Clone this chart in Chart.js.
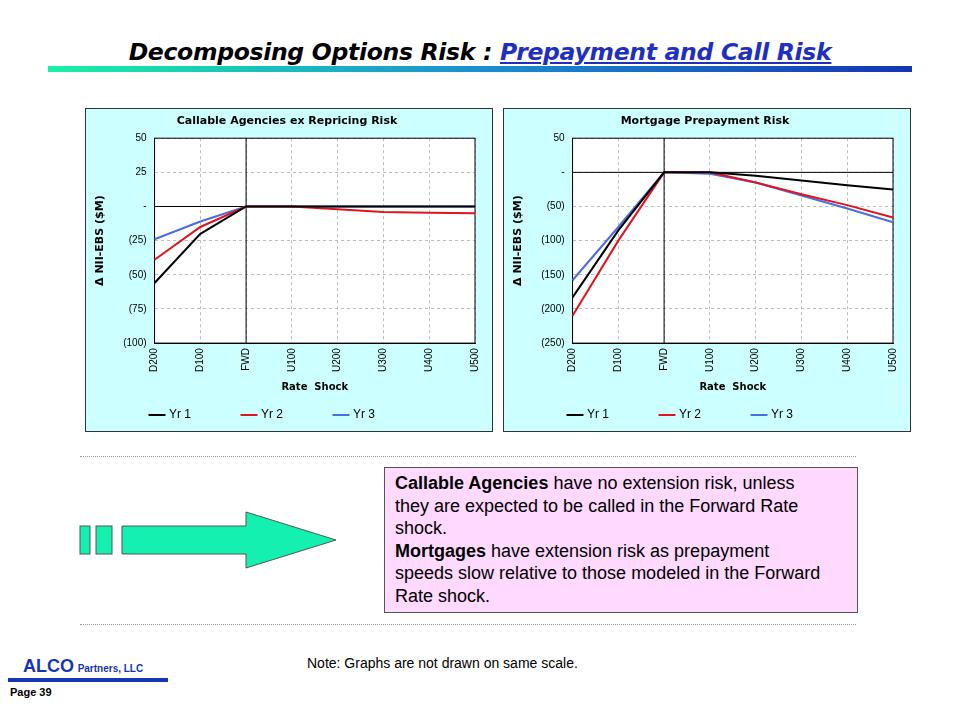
<!DOCTYPE html>
<html>
<head>
<meta charset="utf-8">
<script src="https://cdn.jsdelivr.net/npm/chart.js@4"></script>
<style>
  body { margin:0; width:960px; height:720px; background:#fff; position:relative; font-family:"DejaVu Sans", sans-serif; overflow:hidden; }
  .abs { position:absolute; }
  .box { position:absolute; width:406px; height:322px; border:1px solid #333; background:#ccffff; }
  .box canvas { width:406px !important; height:322px !important; }
</style>
</head>
<body>
<div class="abs" style="left:0;top:38px;width:960px;text-align:center;font:italic bold 23.5px 'DejaVu Sans',sans-serif;letter-spacing:-0.3px;">
  Decomposing Options Risk : <span style="color:#1f2fc0;text-decoration:underline;">Prepayment and Call Risk</span>
</div>
<div class="abs" style="left:48px;top:66px;width:864px;height:6px;background:linear-gradient(to right,#19f0a6,#1a8fd0 50%,#1634b6);"></div>

<div class="box" style="left:85px;top:108px;"><canvas id="c1" width="406" height="322"></canvas></div>
<div class="box" style="left:503px;top:108px;"><canvas id="c2" width="406" height="322"></canvas></div>

<div class="abs" style="left:80px;top:456px;width:776px;border-top:1px dotted #999;"></div>
<div class="abs" style="left:80px;top:624px;width:776px;border-top:1px dotted #999;"></div>

<svg class="abs" style="left:78px;top:510px;" width="262" height="62">
  <rect x="2" y="16" width="10" height="28" fill="#14f0b0" stroke="#555"/>
  <rect x="18" y="16" width="16" height="28" fill="#14f0b0" stroke="#555"/>
  <polygon points="44,16 168,16 168,2 258,30 168,58 168,44 44,44" fill="#14f0b0" stroke="#555"/>
</svg>

<div class="abs" style="left:384px;top:467px;width:427px;height:138px;padding:4px 35px 2px 10px;background:#ffd9ff;border:1px solid #555;font:18px Arial,'Liberation Sans',sans-serif;line-height:22.5px;">
  <b>Callable Agencies</b> have no extension risk, unless they are expected to be called in the Forward Rate shock.<br>
  <b>Mortgages</b> have extension risk as prepayment speeds slow relative to those modeled in the Forward Rate shock.
</div>

<div class="abs" style="left:307px;top:655px;font:14px Arial,'Liberation Sans',sans-serif;">Note: Graphs are not drawn on same scale.</div>

<div class="abs" style="left:8px;top:656px;font:bold 13px Arial,sans-serif;color:#1634b6;">
  <span style="font:bold 18px Arial,sans-serif;color:#1634b6;">&nbsp;&nbsp;&nbsp;ALCO</span> <span style="font-size:10px;">Partners, LLC</span>
</div>
<div class="abs" style="left:8px;top:678px;width:160px;height:4px;background:#1634b6;"></div>
<div class="abs" style="left:10px;top:686px;font:bold 11px Arial,sans-serif;">Page 39</div>

<script>
const shocks = ['D200','D100','FWD','U100','U200','U300','U400','U500'];
const seriesNames = ['Yr 1','Yr 2','Yr 3'];
const seriesColors = ['#000000','#e0141e','#4a6ee0'];

const callYr1 = [-56, -20, 0, 0, 0, 0, 0, 0];
const callYr2 = [-39, -15, 0, 0, -2, -4, -4.5, -5];
const callYr3 = [-24, -11, 0, 0, 0, 0, 0, 0];

const mortYr1 = [-183, -85, 0, 0, -5, -12, -19, -25];
const mortYr2 = [-210, -100, 0, 0, -15, -32, -48, -66];
const mortYr3 = [-158, -80, 0, -2, -15, -34, -53, -73];

function fmtTick(v) {
  if (v === 0) return '-';
  return v < 0 ? '(' + Math.abs(v) + ')' : String(v);
}

const plotBg = {
  id: 'plotBg',
  beforeDraw(chart) {
    const { ctx, chartArea: a } = chart;
    ctx.save();
    ctx.fillStyle = '#ffffff';
    ctx.fillRect(a.left, a.top, a.right - a.left, a.bottom - a.top);
    ctx.restore();
  },
  beforeDatasetsDraw(chart) {
    const { ctx, chartArea: a, scales } = chart;
    const y0 = scales.y.getPixelForValue(0);
    const xf = scales.x.getPixelForValue(2);
    ctx.save();
    ctx.strokeStyle = '#000';
    ctx.lineWidth = 1;
    ctx.beginPath();
    ctx.moveTo(a.left, y0); ctx.lineTo(a.right, y0);
    ctx.moveTo(xf, a.top); ctx.lineTo(xf, a.bottom);
    ctx.strokeRect(a.left, a.top, a.right - a.left, a.bottom - a.top);
    ctx.stroke();
    ctx.restore();
  }
};

function makeChart(id, title, data, min, max, step) {
  new Chart(document.getElementById(id), {
    type: 'line',
    data: {
      labels: shocks,
      datasets: data.map((d, i) => ({
        label: seriesNames[i], data: d,
        borderColor: seriesColors[i], backgroundColor: seriesColors[i],
        borderWidth: 2, pointRadius: 0, tension: 0
      }))
    },
    options: {
      responsive: false, animation: false,
      layout: { padding: { left: 8, right: 12, top: 4, bottom: 0 } },
      plugins: {
        title: { display: true, text: title, color: '#000', font: { family: 'DejaVu Sans', size: 11, weight: 'bold' }, padding: { top: 2, bottom: 10 } },
        legend: {
          position: 'bottom',
          labels: {
            usePointStyle: true, pointStyle: 'line', boxWidth: 24, color: '#000',
            font: { family: 'Arial', size: 12 }, padding: 4,
            generateLabels(chart) {
              const items = Chart.defaults.plugins.legend.labels.generateLabels(chart);
              items.forEach(it => { it.text = it.text + '\u2003\u2003\u2003\u2003'; });
              return items;
            }
          }
        },
        tooltip: { enabled: false }
      },
      scales: {
        x: {
          offset: false,
          grid: { color: '#bbb', drawTicks: false },
          border: { color: '#000', dash: [3, 3] },
          ticks: { color: '#000', font: { family: 'Arial', size: 10 }, minRotation: 90, maxRotation: 90, padding: 5 },
          title: { display: true, text: 'Rate  Shock', color: '#000', font: { family: 'DejaVu Sans', size: 10, weight: 'bold' }, padding: { top: 4, bottom: 12 } }
        },
        y: {
          min: min, max: max,
          grid: { color: '#bbb', drawTicks: false },
          border: { color: '#000', dash: [3, 3] },
          ticks: { stepSize: step, color: '#000', font: { family: 'Arial', size: 10 }, padding: 8, callback: v => fmtTick(v) },
          title: { display: true, text: '\u0394 NII-EBS ($M)', color: '#000', font: { family: 'DejaVu Sans', size: 11, weight: 'bold' }, padding: { top: 0, bottom: 8 } }
        }
      }
    },
    plugins: [plotBg]
  });
}

makeChart('c1', 'Callable Agencies ex Repricing Risk', [callYr1, callYr2, callYr3], -100, 50, 25);
makeChart('c2', 'Mortgage Prepayment Risk', [mortYr1, mortYr2, mortYr3], -250, 50, 50);
</script>
</body>
</html>
